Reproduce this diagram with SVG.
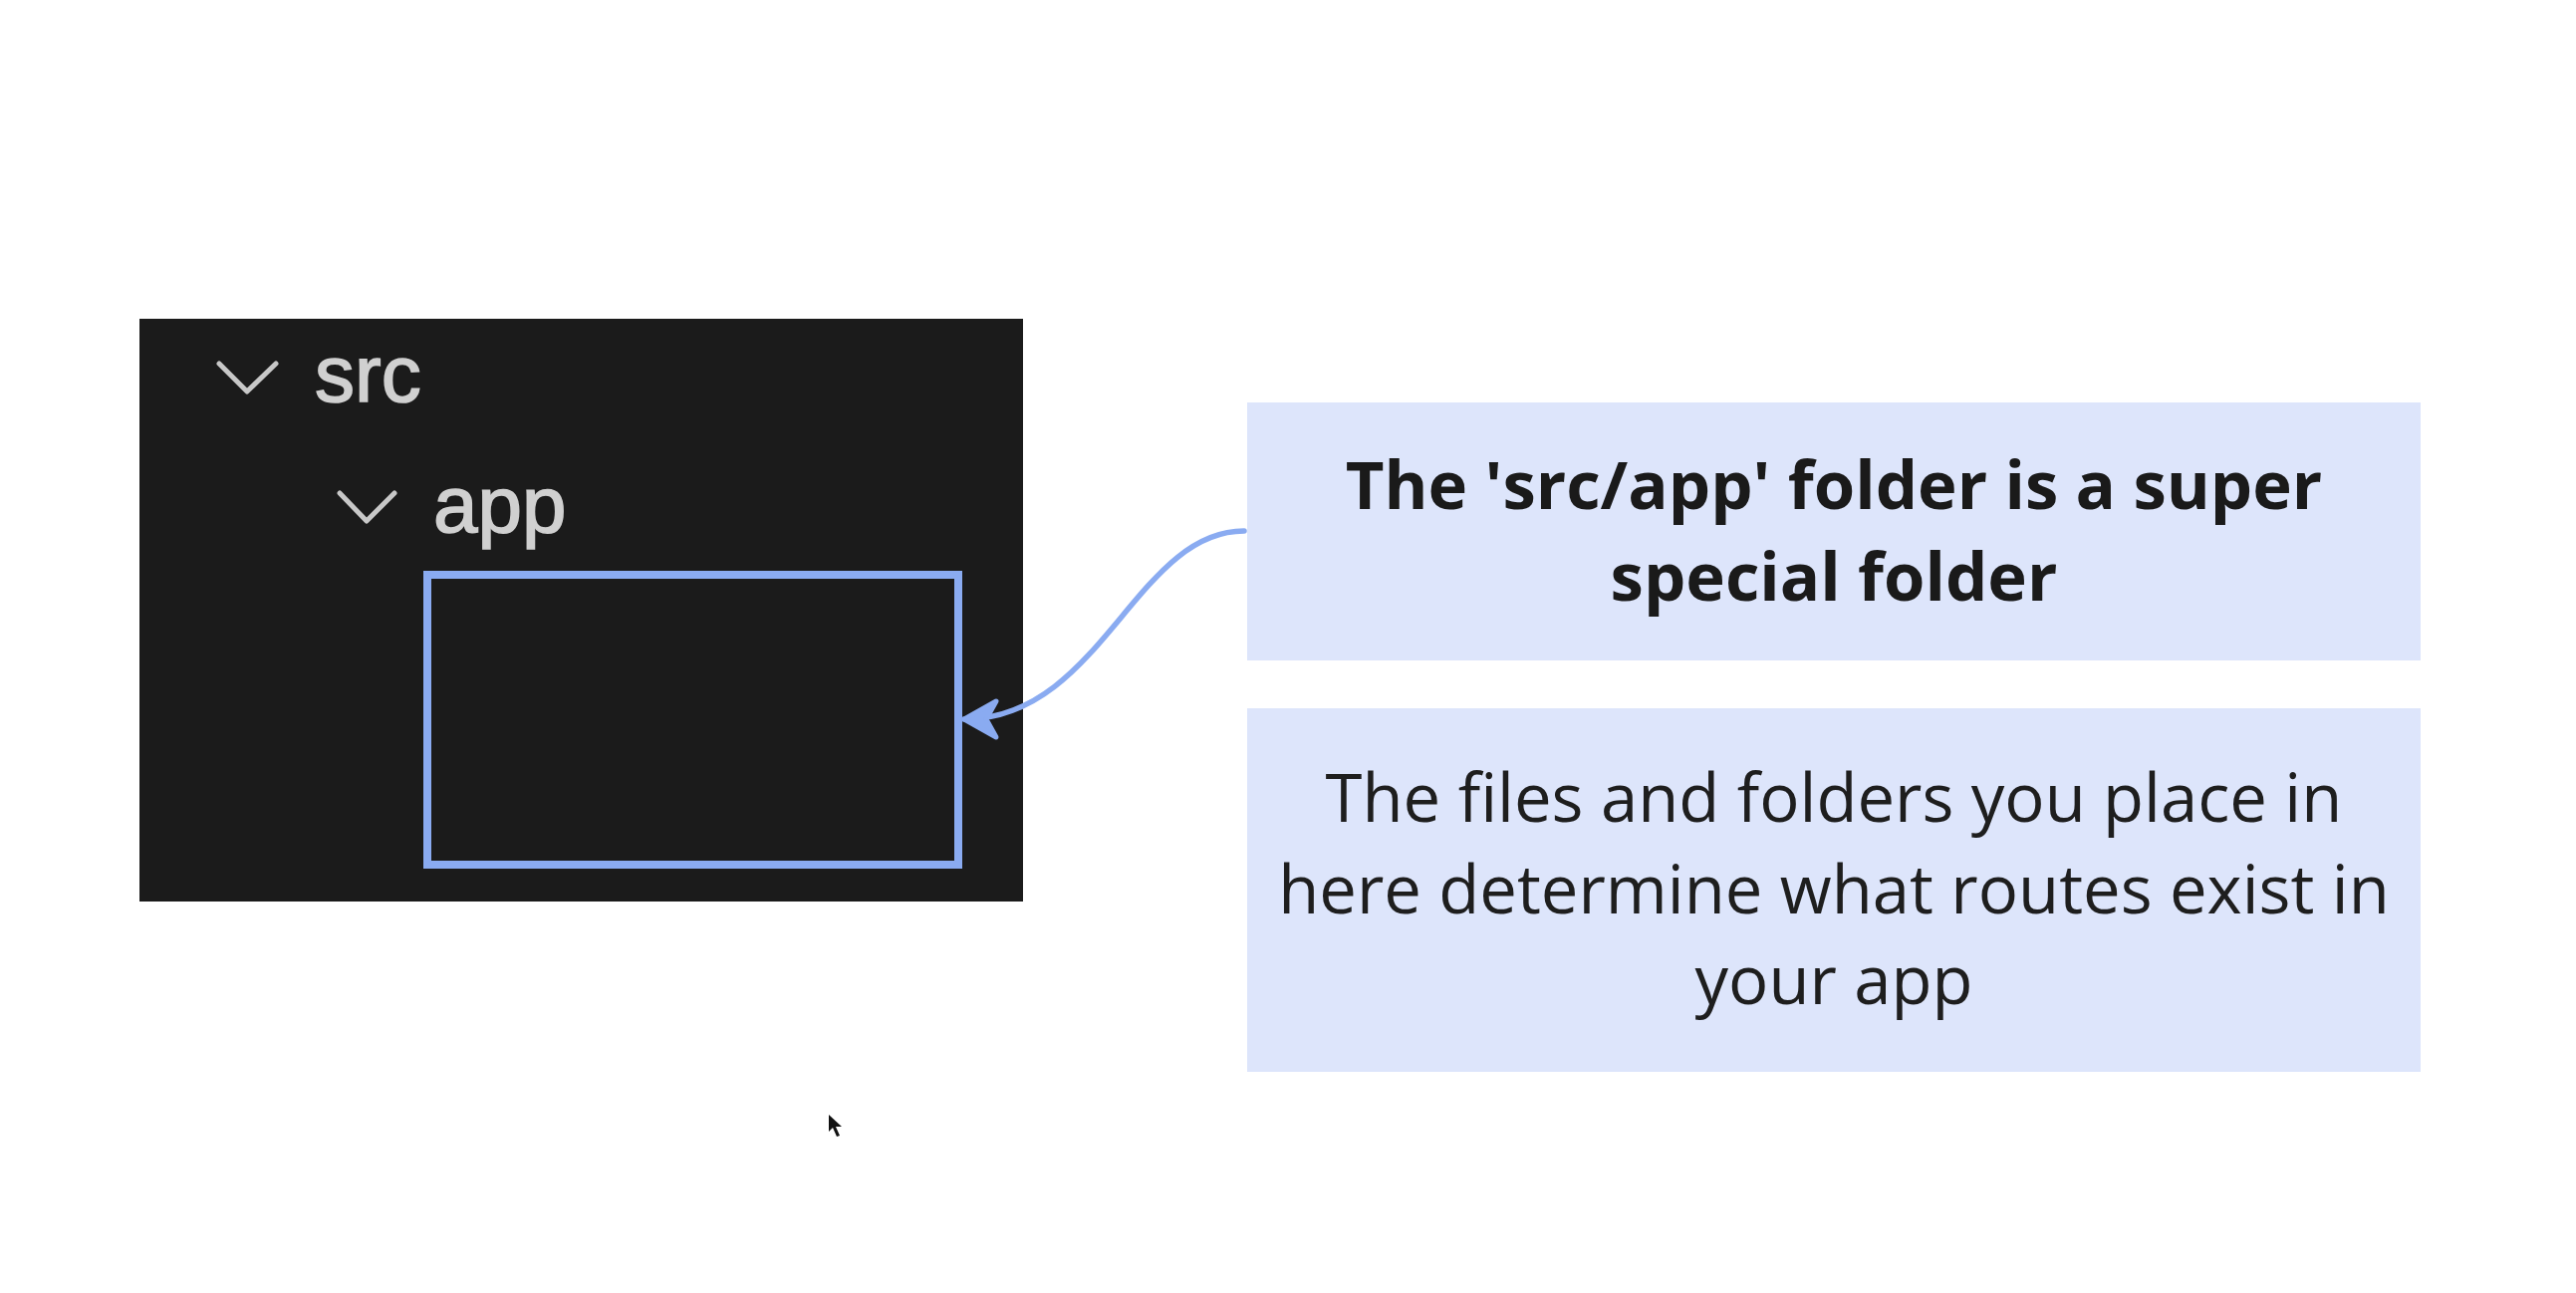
<svg xmlns="http://www.w3.org/2000/svg" width="2586" height="1298" viewBox="0 0 2586 1298">
  <style>
    .tree { font-family: "Liberation Sans", Arial, sans-serif; font-size: 80px; fill: #d0d0d0; stroke: #d0d0d0; stroke-width: 1.6; }
    .chev { fill: none; stroke: #c8c8c8; stroke-width: 5; stroke-linecap: round; stroke-linejoin: round; }
    .note { fill: #dde5fb; }
    .bold { font-family: "Open Sans", "Noto Sans", sans-serif; font-weight: 700; font-size: 67px; fill: #1a1a1a; text-anchor: middle; }
    .reg { font-family: "Open Sans", "Noto Sans", sans-serif; font-weight: 400; font-size: 67px; fill: #1e1e1e; text-anchor: middle; }
    .conn { fill: none; stroke: #8aabf1; stroke-width: 5.5; stroke-linecap: round; }
  </style>
  <defs>
    <marker id="arrow" markerUnits="userSpaceOnUse" markerWidth="46" markerHeight="46" refX="40" refY="21" orient="auto" viewBox="0 0 46 42">
      <path d="M40,21 L8,3 L18,21 L8,39 Z" fill="#8aabf1" stroke="#8aabf1" stroke-width="5" stroke-linejoin="round"/>
    </marker>
  </defs>
  <rect x="0" y="0" width="2586" height="1298" fill="#ffffff"/>

  <g id="tree-panel">
    <rect x="140" y="320" width="887" height="585" fill="#1b1b1b"/>
    <g id="src-row">
      <polyline class="chev" points="220,365 248,393 277,365"/>
      <text class="tree" x="316" y="403">src</text>
    </g>
    <g id="app-row">
      <polyline class="chev" points="341,495 368,523 396,495"/>
      <text class="tree" x="435" y="534">app</text>
    </g>
    <g id="app-contents">
      <rect x="429" y="577" width="533" height="291" fill="none" stroke="#8aabf1" stroke-width="8"/>
    </g>
  </g>

  <g id="note-title">
    <rect class="note" x="1252" y="404" width="1178" height="259"/>
    <text class="bold" x="1841" y="511">The 'src/app' folder is a super</text>
    <text class="bold" x="1841" y="603">special folder</text>
  </g>

  <g id="note-body">
    <rect class="note" x="1252" y="711" width="1178" height="365"/>
    <text class="reg" x="1841" y="825">The files and folders you place in</text>
    <text class="reg" x="1841" y="917">here determine what routes exist in</text>
    <text class="reg" x="1841" y="1008">your app</text>
  </g>

  <g id="connectors">
    <path class="conn" d="M1249,533 C1140,533 1105,722 968,722" marker-end="url(#arrow)"/>
  </g>

  <g id="cursor">
    <path d="M832,1119 L832,1136 L836,1132 L840,1141 L843,1140 L839,1131 L845,1131 Z" fill="#111111"/>
  </g>
</svg>
